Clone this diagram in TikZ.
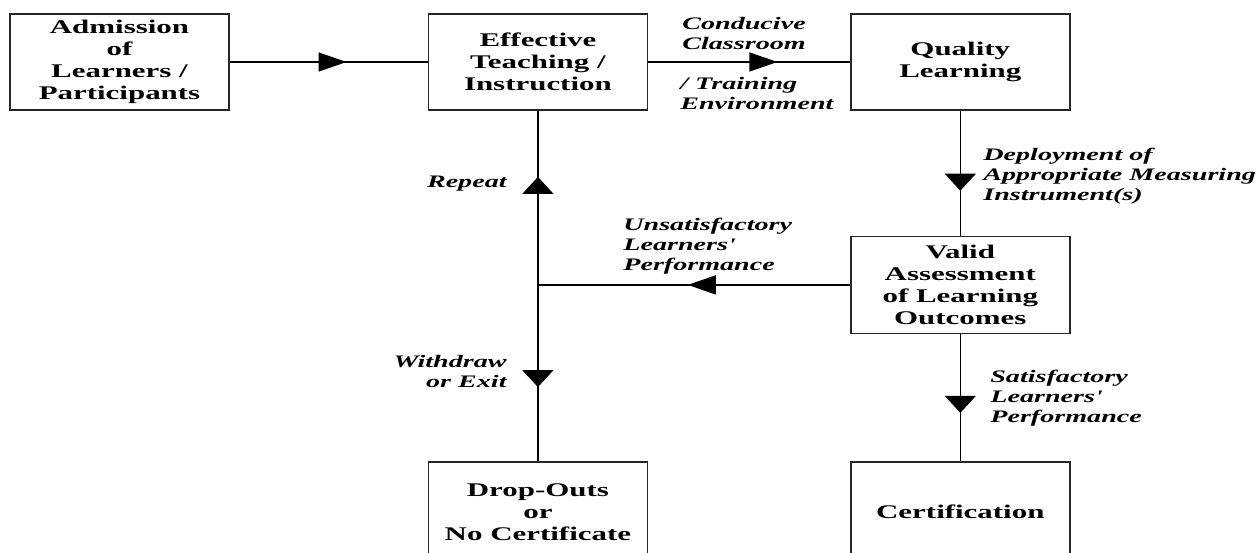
\documentclass[tikz,border=0pt]{standalone}
\usepackage{fontspec}
\setmainfont{Liberation Serif}[FakeStretch=1.6]
\usetikzlibrary{arrows.meta,positioning,decorations.markings}

\begin{document}
\begin{tikzpicture}[
      stagebox/.style={
        draw=black!85,
        line width=0.8pt,
        minimum width=4.38cm,
        minimum height=1.92cm,
        inner sep=2pt,
        align=center,
        font=\fontsize{11}{12.5}\selectfont\bfseries
      },
      edgelabel/.style={
        inner sep=0pt,
        font=\fontsize{10}{11.3}\selectfont\bfseries\itshape
      },
      hflow/.style={
        draw, line width=0.8pt, postaction={decorate},
        decoration={markings,
          mark=at position #1 with {\arrow{Triangle[length=0.56cm,width=0.38cm]}}}
      },
      vflow/.style={
        draw, line width=0.8pt, postaction={decorate},
        decoration={markings,
          mark=at position #1 with {\arrow{Triangle[length=0.34cm,width=0.62cm]}}}
      }
    ]
      \useasboundingbox (0,0) rectangle (25.16,-11.06);

      % boxes
      \node[stagebox] (admit) at (2.39,-1.24) {Admission\\of\\Learners /\\Participants};
      \node[stagebox,right=3.96cm of admit] (teach) {Effective\\Teaching /\\Instruction};
      \node[stagebox,right=4.04cm of teach] (quality) {Quality\\Learning};
      \node[stagebox,minimum height=1.94cm,below=2.5cm of quality] (valid)
        {Valid\\Assessment\\of Learning\\Outcomes};
      \node[stagebox,minimum height=2cm,below=2.54cm of valid] (cert) {Certification};
      \node[stagebox,minimum height=2cm,left=4.04cm of cert] (drop)
        {Drop-Outs\\or\\No Certificate};
      \coordinate (split) at (teach.south |- valid.west);

      % connectors
      \path[hflow=0.59] (admit.east) -- (teach.west);
      \path[hflow=0.64] (teach.east) -- (quality.west);
      \path[vflow=0.64] (quality.south) -- (valid.north);
      \path[vflow=0.62] (valid.south) -- (cert.north);
      \path[hflow=0.52] (valid.west) -- (split);
      \path[vflow=0.62] (split) -- (teach.south);
      \path[vflow=0.58] (split) -- (drop.north);

      % labels
      \node[edgelabel,anchor=north west,align=left] (conducive) at (13.64,-0.34)
        {Conducive\\Classroom};
      \node[edgelabel,anchor=north west,align=left] (training) at (13.60,-1.54)
        {/ Training\\Environment};
      \node[edgelabel,anchor=base east] (repeat) at (10.14,-3.76) {Repeat};
      \node[edgelabel,anchor=north west,align=left] (unsat) at (12.46,-4.36)
        {Unsatisfactory\\Learners\textquotesingle\\Performance};
      \node[edgelabel,anchor=north west,align=left] (deploy) at (19.66,-2.96)
        {Deployment of\\Appropriate Measuring\\Instrument(s)};
      \node[edgelabel,anchor=north east,align=right] (withdraw) at (10.14,-7.10)
        {Withdraw\\or Exit};
      \node[edgelabel,anchor=north west,align=left] (satisf) at (19.80,-7.40)
        {Satisfactory\\Learners\textquotesingle\\Performance};
    \end{tikzpicture}
\end{document}
